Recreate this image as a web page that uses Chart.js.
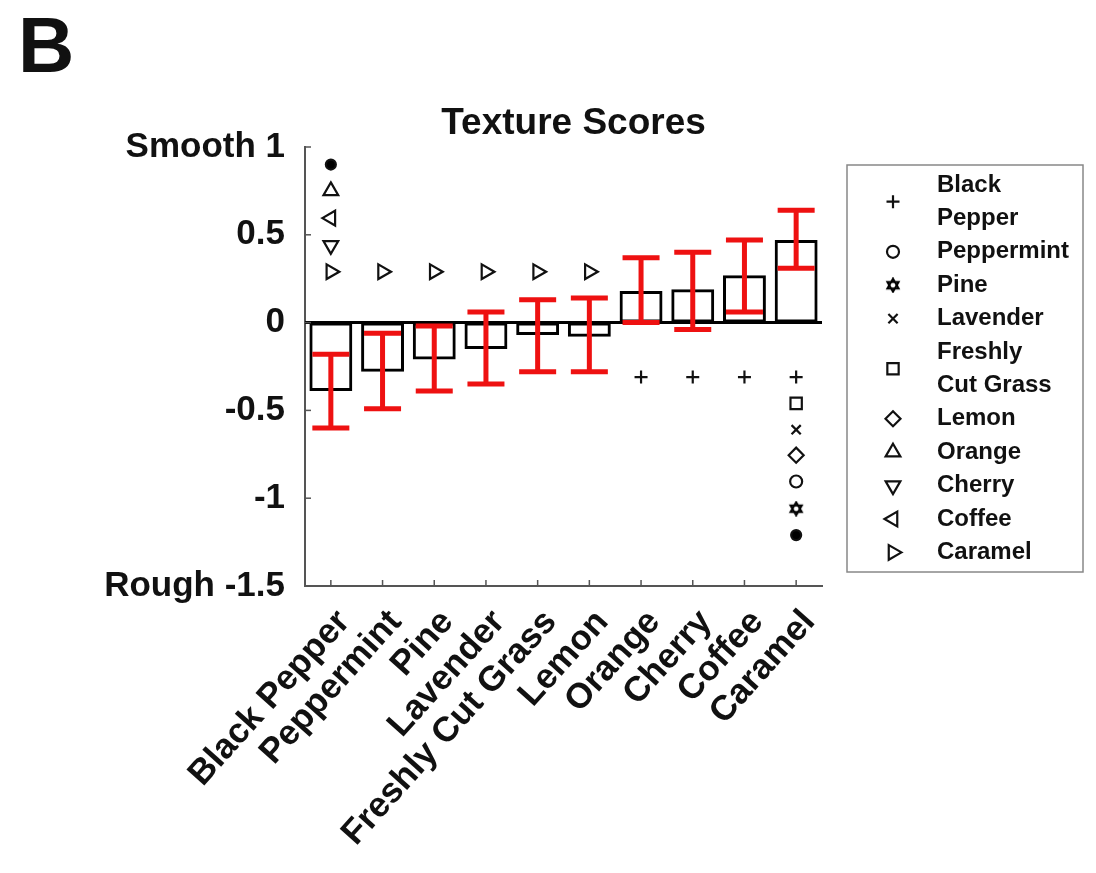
<!DOCTYPE html>
<html><head><meta charset="utf-8">
<script src="https://cdn.jsdelivr.net/npm/chart.js@4/dist/chart.umd.min.js"></script>
<style>html,body{margin:0;padding:0;background:#fff}#wrap{width:1096px;height:873px;position:relative}</style>
</head><body><div id="wrap"><canvas id="c"></canvas></div>
<script>
// ---------- data ----------
const categories = ['Black Pepper','Peppermint','Pine','Lavender','Freshly Cut Grass','Lemon','Orange','Cherry','Coffee','Caramel'];
const meanScores = [-0.39,-0.28,-0.21,-0.15,-0.07,-0.08,0.18,0.19,0.27,0.47];
const errLow  = [-0.60,-0.49,-0.39,-0.35,-0.28,-0.28,0.00,-0.04,0.06,0.31];
const errHigh = [-0.18,-0.06,-0.02,0.06,0.13,0.14,0.37,0.40,0.47,0.64];
const yTickValues = [-1.5,-1,-0.5,0,0.5,1];
const yTickLabels = ['Rough -1.5','-1','-0.5','0','0.5','Smooth 1'];
// significance markers (y position per category, null = none)
const markDot        = [0.90,null,null,null,null,null,null,null,null,-1.21];
const markOrange     = [0.75,null,null,null,null,null,null,null,null,null];
const markCoffee     = [0.595,null,null,null,null,null,null,null,null,null];
const markCherry     = [0.44,null,null,null,null,null,null,null,null,null];
const markCaramel    = [0.29,0.29,0.29,0.29,0.29,0.29,null,null,null,null];
const markBlackPepper= [null,null,null,null,null,null,-0.31,-0.31,-0.31,-0.31];
const markGrass      = [null,null,null,null,null,null,null,null,null,-0.46];
const markLavender   = [null,null,null,null,null,null,null,null,null,-0.61];
const markLemon      = [null,null,null,null,null,null,null,null,null,-0.755];
const markPeppermint = [null,null,null,null,null,null,null,null,null,-0.905];
const markPine       = [null,null,null,null,null,null,null,null,null,-1.06];
const legendLabels = [['Black','Pepper'],['Peppermint'],['Pine'],['Lavender'],['Freshly','Cut Grass'],['Lemon'],['Orange'],['Cherry'],['Coffee'],['Caramel']];

// ---------- styles ----------
const FONT = '"Liberation Sans", Arial, sans-serif';
function hexagram(size){
  const c=document.createElement('canvas'); c.width=c.height=size;
  const g=c.getContext('2d'); const r=size/2-1.5, cx=size/2, cy=size/2;
  g.lineWidth=2; g.strokeStyle='#000';
  for (const a0 of [-90,90]) {
    g.beginPath();
    for (let k=0;k<3;k++){const a=(a0+k*120)*Math.PI/180; const x=cx+r*Math.cos(a), y=cy+r*Math.sin(a); k?g.lineTo(x,y):g.moveTo(x,y);}
    g.closePath(); g.stroke();
  }
  return c;
}
const hexImg = hexagram(16);
const styleBlackPepper = {pointStyle:'cross', rotation:0, radius:6.5};
const stylePeppermint = {pointStyle:'circle', rotation:0, radius:6};
const stylePine = {pointStyle:hexImg, rotation:0, radius:8};
const styleLavender = {pointStyle:'crossRot', rotation:0, radius:6.5};
const styleGrass = {pointStyle:'rect', rotation:0, radius:8};
const styleLemon = {pointStyle:'rectRot', rotation:0, radius:7.5};
const styleOrange = {pointStyle:'triangle', rotation:0, radius:8.5};
const styleCherry = {pointStyle:'triangle', rotation:180, radius:8.5};
const styleCoffee = {pointStyle:'triangle', rotation:270, radius:8.5};
const styleCaramel = {pointStyle:'triangle', rotation:90, radius:8.5};
const styleDot = {pointStyle:'circle', rotation:0, radius:5, fill:'#000'};
const legendStyles = [styleBlackPepper,stylePeppermint,stylePine,styleLavender,styleGrass,styleLemon,styleOrange,styleCherry,styleCoffee,styleCaramel];

function markerDataset(data, st){
  return {type:'line', data:data, showLine:false, pointStyle:st.pointStyle, pointRotation:st.rotation,
    pointRadius:st.radius, pointBorderColor:'#111', pointBackgroundColor: st.fill || 'rgba(0,0,0,0)',
    pointBorderWidth:2.2, borderColor:'#111', spanGaps:false};
}

// ---------- plugins ----------
const decorations = {
  id:'decorations',
  beforeDatasetsDraw(chart){
    const {ctx, chartArea:a, scales:{y}} = chart;
    ctx.save();
    ctx.strokeStyle='#000'; ctx.lineWidth=3;
    const y0=y.getPixelForValue(0);
    ctx.beginPath(); ctx.moveTo(a.left,y0); ctx.lineTo(a.right,y0); ctx.stroke();
    ctx.restore();
  },
  afterDatasetDraw(chart, args){
    if (args.index!==0) return;
    const {ctx, scales:{x,y}} = chart;
    ctx.save();
    ctx.strokeStyle='#ee1111'; ctx.lineWidth=5; ctx.lineCap='butt';
    const half=18.5;
    categories.forEach((c,i)=>{
      const px=x.getPixelForValue(i);
      const yl=y.getPixelForValue(errLow[i]), yh=y.getPixelForValue(errHigh[i]);
      ctx.beginPath();
      ctx.moveTo(px,yl); ctx.lineTo(px,yh);
      ctx.moveTo(px-half,yl); ctx.lineTo(px+half,yl);
      ctx.moveTo(px-half,yh); ctx.lineTo(px+half,yh);
      ctx.stroke();
    });
    ctx.restore();
  },
  afterDraw(chart){
    const {ctx, chartArea:a, scales:{x,y}} = chart;
    ctx.save();
    // inward ticks
    ctx.strokeStyle='#555'; ctx.lineWidth=1.5;
    yTickValues.forEach(v=>{const py=y.getPixelForValue(v); ctx.beginPath(); ctx.moveTo(a.left,py); ctx.lineTo(a.left+6,py); ctx.stroke();});
    categories.forEach((c,i)=>{const px=x.getPixelForValue(i); ctx.beginPath(); ctx.moveTo(px,a.bottom); ctx.lineTo(px,a.bottom-6); ctx.stroke();});
    // title
    ctx.fillStyle='#111'; ctx.textAlign='center'; ctx.textBaseline='alphabetic';
    ctx.font='bold 37px '+FONT;
    ctx.fillText('Texture Scores', (a.left+a.right)/2+10, a.top-13);
    // panel letter
    ctx.textAlign='left'; ctx.font='bold 78px '+FONT;
    ctx.fillText('B', 18, 72);
    // legend
    const bx=a.right+25, by=a.top+18, bw=236, bh=407;
    ctx.strokeStyle='#888'; ctx.lineWidth=1.5;
    ctx.strokeRect(bx,by,bw,bh);
    ctx.font='bold 24px '+FONT; ctx.textBaseline='middle';
    const lh=33.4; let line=0; const firstY=by+20;
    legendLabels.forEach((lines,i)=>{
      const yc = firstY + lh*(line + (lines.length-1)/2);
      const st=legendStyles[i];
      ctx.fillStyle='rgba(0,0,0,0)'; ctx.strokeStyle='#111'; ctx.lineWidth=2.2;
      Chart.helpers.drawPoint(ctx,{pointStyle:st.pointStyle, rotation:st.rotation, radius:st.radius, borderWidth:2.2}, bx+46, yc);
      ctx.fillStyle='#111';
      lines.forEach((t,k)=>ctx.fillText(t, bx+90, firstY+lh*(line+k)));
      line+=lines.length;
    });
    ctx.restore();
  }
};

// ---------- chart ----------
Chart.defaults.color='#111';
Chart.defaults.font.family=FONT;
const datasets = [
  {type:'bar', data:meanScores, backgroundColor:'rgba(255,255,255,0)', borderColor:'#000', borderWidth:3,
   borderSkipped:false, barPercentage:0.83, categoryPercentage:1.0},
  markerDataset(markDot, styleDot),
  markerDataset(markOrange, styleOrange),
  markerDataset(markCoffee, styleCoffee),
  markerDataset(markCherry, styleCherry),
  markerDataset(markCaramel, styleCaramel),
  markerDataset(markBlackPepper, styleBlackPepper),
  markerDataset(markGrass, styleGrass),
  markerDataset(markLavender, styleLavender),
  markerDataset(markLemon, styleLemon),
  markerDataset(markPeppermint, stylePeppermint),
  markerDataset(markPine, stylePine)
];
new Chart(document.getElementById('c'), {
  data:{labels:categories, datasets:datasets},
  options:{
    responsive:true, maintainAspectRatio:false, animation:false,
    layout:{padding:{left:0, top:147, right:274, bottom:0}},
    plugins:{legend:{display:false}, tooltip:{enabled:false}, title:{display:false}},
    scales:{
      x:{type:'category', offset:true,
        grid:{display:false, drawTicks:false},
        border:{display:true, color:'#555', width:2},
        ticks:{autoSkip:false, minRotation:48, maxRotation:48, padding:16, labelOffset:13, font:{size:35, weight:'bold'}},
        afterFit(s){ s.height = 287; }
      },
      y:{type:'linear', min:-1.5, max:1,
        grid:{display:false, drawTicks:false},
        border:{display:true, color:'#555', width:2},
        afterBuildTicks(s){ s.ticks = yTickValues.map(v=>({value:v})); },
        ticks:{padding:20, font:{size:35, weight:'bold'},
          callback:(v)=>{const i=yTickValues.indexOf(v); return i>=0?yTickLabels[i]:'';}},
        afterFit(s){ s.width = 305; }
      }
    }
  },
  plugins:[decorations]
});
</script></body></html>
